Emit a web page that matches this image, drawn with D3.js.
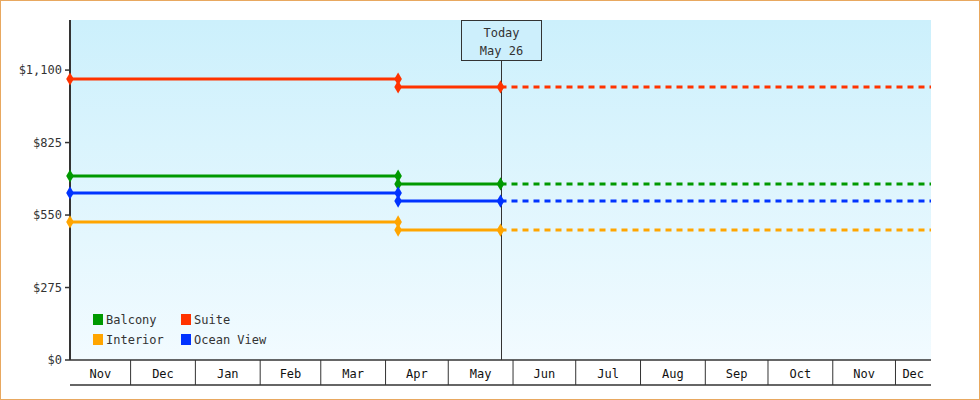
<!DOCTYPE html>
<html><head><meta charset="utf-8">
<script src="https://cdn.jsdelivr.net/npm/d3@7"></script>
<style>
body{margin:0;background:#fff}
svg{display:block;font-family:"DejaVu Sans Mono",monospace;font-size:12px}
</style></head><body>
<svg width="980" height="400"></svg>
<script>
const series = ['Balcony', 'Suite', 'Interior', 'Ocean View']
const colors = ['#009900', '#ff3300', '#ffa500', '#0033ff']
const oldPrices = [698, 1066, 524, 634]
const newPrices = [668, 1036, 493, 603]
const startDate = '2023-11-02', changeDate = '2024-04-07', todayDate = '2024-05-26', endDate = '2024-12-18'
const yTicks = [0, 275, 550, 825, 1100]

const svg = d3.select('svg')
const pd = d3.timeParse('%Y-%m-%d')
const L = 70, R = 931, T = 20, B = 360
const x = d3.scaleTime().domain([pd(startDate), pd(endDate)]).range([L, R])
const y = d3.scaleLinear().domain([0, 1290]).range([B, T])

svg.append('rect').attr('x', 0.5).attr('y', 0.5).attr('width', 979).attr('height', 399)
	.attr('fill', '#fff').attr('stroke', '#e8a860')
let grad = svg.append('defs').append('linearGradient').attr('id', 'bg').attr('x1', 0).attr('x2', 0).attr('y1', 0).attr('y2', 1)
grad.append('stop').attr('offset', 0).attr('stop-color', '#ccf0fc')
grad.append('stop').attr('offset', 1).attr('stop-color', '#f2fbff')
svg.append('rect').attr('x', L).attr('y', T).attr('width', R - L).attr('height', B - T).attr('fill', 'url(#bg)')

// y axis
svg.append('line').attr('x1', L).attr('x2', L).attr('y1', T).attr('y2', B).attr('stroke', '#333').attr('stroke-width', 2)
yTicks.forEach(v => {
	svg.append('line').attr('x1', L - 5).attr('x2', L).attr('y1', y(v)).attr('y2', y(v)).attr('stroke', '#333').attr('stroke-width', 1.5)
	svg.append('text').attr('x', L - 8).attr('y', y(v) + 4).attr('text-anchor', 'end').attr('fill', '#333')
		.text('$' + d3.format(',')(v))
})

// x axis month cells
let months = d3.timeMonth.range(d3.timeMonth.floor(x.domain()[0]), x.domain()[1])
svg.append('line').attr('x1', L).attr('x2', R).attr('y1', B).attr('y2', B).attr('stroke', '#333').attr('stroke-width', 1.5)
svg.append('line').attr('x1', L).attr('x2', R).attr('y1', 385).attr('y2', 385).attr('stroke', '#333').attr('stroke-width', 1.5)
months.forEach(m => {
	let a = Math.max(L, x(m)), b = Math.min(R, x(d3.timeMonth.offset(m, 1)))
	if (x(m) > L) svg.append('line').attr('x1', a).attr('x2', a).attr('y1', B).attr('y2', 385).attr('stroke', '#333')
	svg.append('text').attr('x', (a + b) / 2).attr('y', 378).attr('text-anchor', 'middle').attr('fill', '#111')
		.text(d3.timeFormat('%b')(m))
})

// today line
let tx = Math.round(x(pd(todayDate))) + 0.5
svg.append('line').attr('x1', tx).attr('x2', tx).attr('y1', 60).attr('y2', B).attr('stroke', '#333')
svg.append('rect').attr('x', tx - 40).attr('y', 20.5).attr('width', 80).attr('height', 40).attr('fill', '#cdeffc').attr('stroke', '#333')
svg.append('text').attr('x', tx).attr('y', 37).attr('text-anchor', 'middle').attr('fill', '#333').text('Today')
svg.append('text').attr('x', tx).attr('y', 55).attr('text-anchor', 'middle').attr('fill', '#333').text('May 26')

const diamond = d3.symbol().type(d3.symbolDiamond).size(50)
series.forEach((s, i) => {
	let x0 = x(pd(startDate)), x1 = x(pd(changeDate)), x2 = x(pd(todayDate))
	let g = svg.append('g').attr('stroke', colors[i]).attr('fill', colors[i])
	g.append('line').attr('x1', x0).attr('x2', x1).attr('y1', y(oldPrices[i])).attr('y2', y(oldPrices[i])).attr('stroke-width', 3)
	g.append('line').attr('x1', x1).attr('x2', x2).attr('y1', y(newPrices[i])).attr('y2', y(newPrices[i])).attr('stroke-width', 3)
	g.append('line').attr('x1', x2).attr('x2', R).attr('y1', y(newPrices[i])).attr('y2', y(newPrices[i]))
		.attr('stroke-width', 3).attr('stroke-dasharray', '6,5')
	;[[x0, oldPrices[i]], [x1, oldPrices[i]], [x1, newPrices[i]], [x2, newPrices[i]]].forEach(p => {
		g.append('path').attr('d', diamond).attr('stroke', 'none').attr('transform', `translate(${p[0]},${y(p[1])})`)
	})
})

// legend
series.forEach((s, i) => {
	let lx = 93 + (i % 2) * 88, ly = 314 + Math.floor(i / 2) * 20
	svg.append('rect').attr('x', lx).attr('y', ly).attr('width', 10).attr('height', 11).attr('fill', colors[i])
	svg.append('text').attr('x', lx + 13).attr('y', ly + 10).attr('fill', '#333').text(s)
})
</script></body></html>
